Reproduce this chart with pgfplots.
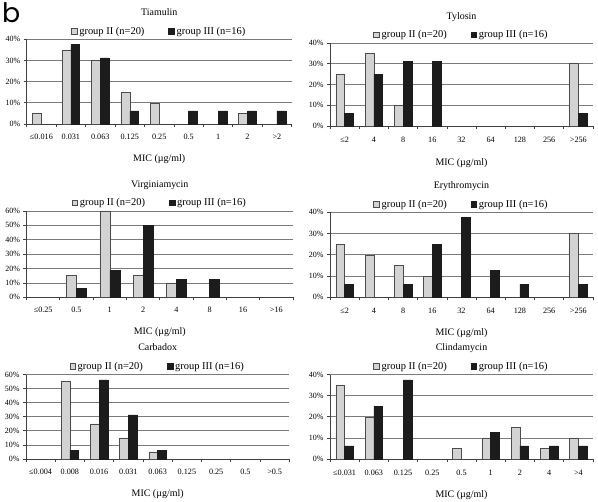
\documentclass[border=0pt]{standalone}
\usepackage{fontspec}
\setmainfont{Liberation Serif}
\newfontfamily\bfont{Poppins}
\usepackage{pgfplots}
\pgfplotsset{compat=1.18}

\definecolor{lightbar}{HTML}{D3D3D3}
\definecolor{darkbar}{HTML}{1C1C1C}
\definecolor{gridc}{HTML}{7A7A7A}

\pgfplotsset{
 panel/.style={
  scale only axis,
  ybar=0pt, bar width=0.3,
  ymin=0, xmin=-0.5,
  axis x line*=bottom, axis y line*=left,
  axis line style={draw=black!75, line width=0.7bp},
  ymajorgrids, grid style={draw=gridc, line width=0.7bp},
  tick align=outside, major tick length=3bp,
  tick style={draw=black!75, line width=0.7bp},
  /pgf/number format/assume math mode=true,
  ytick distance=10,
  yticklabel={\pgfmathprintnumber{\tick}\%},
  yticklabel style={font=\fontsize{8}{9}\selectfont},
  xticklabel={\mbox{}},
  xticklabel style={font=\fontsize{8.2}{9}\selectfont, anchor=base},
  extra x tick style={major tick length=0pt, grid=none},
  title style={anchor=base, yshift=18bp, font=\fontsize{10}{12}\selectfont},
  xlabel={MIC (µg/ml)},
  xlabel style={at={(0.5,0)}, anchor=base, font=\fontsize{10}{12}\selectfont},
  legend columns=2,
  legend style={at={(0.5,1)}, anchor=south, yshift=1.5bp, draw=none, fill=none, inner sep=0pt,
    font=\fontsize{10.5}{12}\selectfont,
    /tikz/every even column/.append style={column sep=22bp}},
 },
 sqlegend/.style={legend image code/.code={\draw[##1] (0bp,-2.8bp) rectangle (5.7bp,2.8bp);}},
 g2/.style={fill=lightbar, draw=black!70, line width=0.5bp, sqlegend},
 g3/.style={fill=darkbar, draw=darkbar, line width=0.5bp, sqlegend},
}

\begin{document}
\begin{tikzpicture}
\useasboundingbox (0bp,0bp) rectangle (598bp,-502bp);
\node[anchor=base west, inner sep=0pt] at (2bp,-22.5bp) {\bfont\fontsize{27}{27}\selectfont b};

% Tiamulin
\begin{axis}[panel, at={(26.7bp,-124bp)}, anchor=south west, width=265bp, height=84.7bp,
  xmax=8.5, ymax=40, title={Tiamulin},
  xticklabel style={yshift=-15.5bp}, xlabel style={yshift=-37.5bp},
  xtick={-0.5,0.5,...,8.5}, extra x ticks={0,1,...,8},
  extra x tick labels={≤0.016,0.031,0.063,0.125,0.25,0.5,1,2,>2}]
\addplot[g2] coordinates {(0,5) (1,35) (2,30) (3,15) (4,10) (7,5)};
\addplot[g3] coordinates {(1,37.5) (2,31.25) (3,6.25) (5,6.25) (6,6.25) (7,6.25) (8,6.25)};
\legend{group II (n=20), group III (n=16)}
\end{axis}

% Tylosin
\begin{axis}[panel, at={(330bp,-126bp)}, anchor=south west, width=263bp, height=83bp,
  xmax=8.5, ymax=40, title={Tylosin},
  xticklabel style={yshift=-16bp}, xlabel style={yshift=-39bp},
  xtick={-0.5,0.5,...,8.5}, extra x ticks={0,1,...,8},
  extra x tick labels={≤2,4,8,16,32,64,128,256,>256}]
\addplot[g2] coordinates {(0,25) (1,35) (2,10) (8,30)};
\addplot[g3] coordinates {(0,6.25) (1,25) (2,31.25) (3,31.25) (8,6.25)};
\legend{group II (n=20), group III (n=16)}
\end{axis}

% Virginiamycin
\begin{axis}[panel, at={(26.5bp,-297.3bp)}, anchor=south west, width=266.5bp, height=86.3bp,
  xmax=7.5, ymax=60, title={Virginiamycin},
  xticklabel style={yshift=-15.5bp}, xlabel style={yshift=-37bp},
  xtick={-0.5,0.5,...,7.5}, extra x ticks={0,1,...,7},
  extra x tick labels={≤0.25,0.5,1,2,4,8,16,>16}]
\addplot[g2] coordinates {(1,15) (2,60) (3,15) (4,10)};
\addplot[g3] coordinates {(1,6.25) (2,18.75) (3,50) (4,12.5) (5,12.5)};
\legend{group II (n=20), group III (n=16)}
\end{axis}

% Erythromycin
\begin{axis}[panel, at={(330bp,-297.3bp)}, anchor=south west, width=263bp, height=85bp,
  xmax=8.5, ymax=40, title={Erythromycin},
  xticklabel style={yshift=-16bp}, xlabel style={yshift=-37.7bp},
  xtick={-0.5,0.5,...,8.5}, extra x ticks={0,1,...,8},
  extra x tick labels={≤2,4,8,16,32,64,128,256,>256}]
\addplot[g2] coordinates {(0,25) (1,20) (2,15) (3,10) (8,30)};
\addplot[g3] coordinates {(0,6.25) (2,6.25) (3,25) (4,37.5) (5,12.5) (6,6.25) (8,6.25)};
\legend{group II (n=20), group III (n=16)}
\end{axis}

% Carbadox
\begin{axis}[panel, at={(26bp,-459bp)}, anchor=south west, width=263.3bp, height=84.5bp,
  xmax=8.5, ymax=60, title={Carbadox},
  xticklabel style={yshift=-15.7bp}, xlabel style={yshift=-37.3bp},
  xtick={-0.5,0.5,...,8.5}, extra x ticks={0,1,...,8},
  extra x tick labels={≤0.004,0.008,0.016,0.031,0.063,0.125,0.25,0.5,>0.5}]
\addplot[g2] coordinates {(1,55) (2,25) (3,15) (4,5)};
\addplot[g3] coordinates {(1,6.25) (2,56.25) (3,31.25) (4,6.25)};
\legend{group II (n=20), group III (n=16)}
\end{axis}

% Clindamycin
\begin{axis}[panel, at={(330bp,-459bp)}, anchor=south west, width=263bp, height=84.5bp,
  xmax=8.5, ymax=40, title={Clindamycin},
  xticklabel style={yshift=-16.3bp}, xlabel style={yshift=-38bp},
  xtick={-0.5,0.5,...,8.5}, extra x ticks={0,1,...,8},
  extra x tick labels={≤0.031,0.063,0.125,0.25,0.5,1,2,4,>4}]
\addplot[g2] coordinates {(0,35) (1,20) (4,5) (5,10) (6,15) (7,5) (8,10)};
\addplot[g3] coordinates {(0,6.25) (1,25) (2,37.5) (5,12.5) (6,6.25) (7,6.25) (8,6.25)};
\legend{group II (n=20), group III (n=16)}
\end{axis}
\end{tikzpicture}
\end{document}
